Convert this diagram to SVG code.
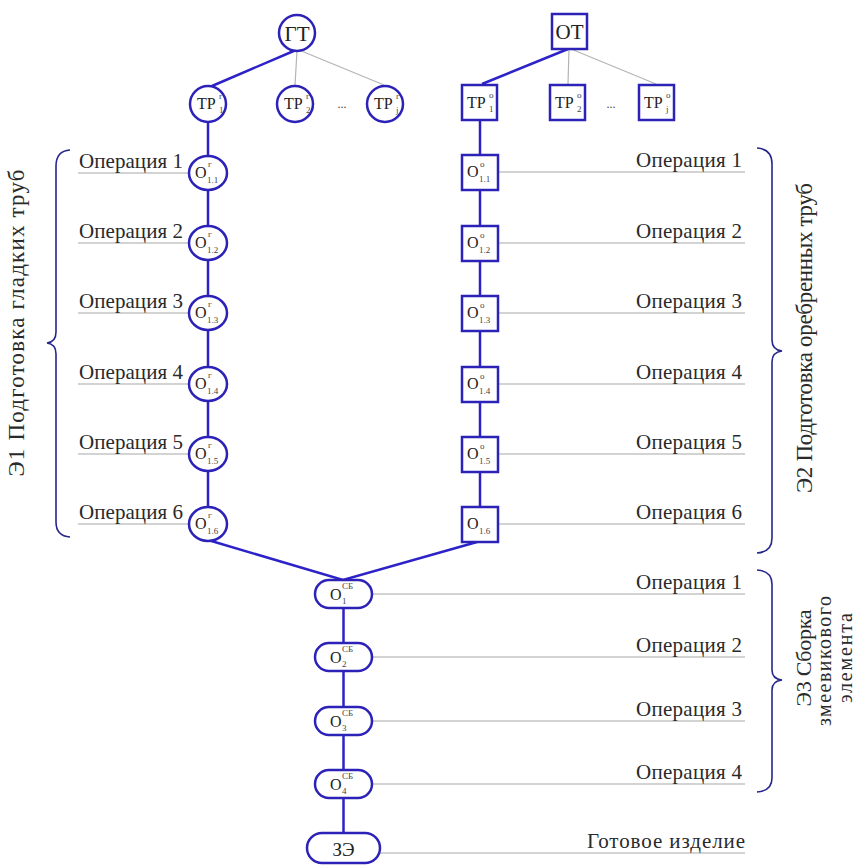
<svg xmlns="http://www.w3.org/2000/svg" width="858" height="865" viewBox="0 0 858 865" font-family="Liberation Serif, DejaVu Serif, serif">
  <style>
    .node { fill: #ffffff; stroke: #2c22b8; stroke-width: 2.5; }
    .link { stroke: #2c22c8; stroke-width: 2.5; fill: none; }
    .thin { stroke: #b4b4b4; stroke-width: 1.2; fill: none; }
    .lead { stroke: #a8a8a8; stroke-width: 1.2; fill: none; }
    .brace { stroke: #26268c; stroke-width: 1.6; fill: none; }
    .lbl { font-size: 21px; fill: #2a2a2a; }
    .nt { font-size: 16px; fill: #222; }
    .sup { font-size: 9px; fill: #444; }
    .big { font-size: 21px; fill: #222; }
    .side { font-size: 23px; fill: #2a2a2a; }
  </style>

  <!-- leader lines under operation labels -->
  <g id="leaders">
    <line class="lead" x1="78" y1="173" x2="189" y2="173"/>
    <line class="lead" x1="78" y1="243" x2="189" y2="243"/>
    <line class="lead" x1="78" y1="313" x2="189" y2="313"/>
    <line class="lead" x1="78" y1="384" x2="189" y2="384"/>
    <line class="lead" x1="78" y1="454" x2="189" y2="454"/>
    <line class="lead" x1="78" y1="524" x2="189" y2="524"/>
    <line class="lead" x1="498" y1="172" x2="745" y2="172"/>
    <line class="lead" x1="498" y1="243" x2="745" y2="243"/>
    <line class="lead" x1="498" y1="313" x2="745" y2="313"/>
    <line class="lead" x1="498" y1="384" x2="745" y2="384"/>
    <line class="lead" x1="498" y1="454" x2="745" y2="454"/>
    <line class="lead" x1="498" y1="524" x2="745" y2="524"/>
    <line class="lead" x1="372" y1="594" x2="745" y2="594"/>
    <line class="lead" x1="372" y1="657" x2="745" y2="657"/>
    <line class="lead" x1="372" y1="721" x2="745" y2="721"/>
    <line class="lead" x1="372" y1="784" x2="745" y2="784"/>
    <line class="lead" x1="380" y1="853" x2="745" y2="853"/>
  </g>

  <!-- connectors -->
  <g id="connectors">
    <line class="link" x1="296" y1="50" x2="212" y2="86"/>
    <line class="thin" x1="297" y1="51" x2="295" y2="85"/>
    <line class="thin" x1="299" y1="50" x2="384" y2="85"/>
    <line class="link" x1="568" y1="49" x2="482" y2="84"/>
    <line class="thin" x1="569" y1="49" x2="568" y2="84"/>
    <line class="thin" x1="571" y1="49" x2="656" y2="84"/>
    <line class="link" x1="208" y1="103" x2="208" y2="524"/>
    <line class="link" x1="480" y1="102" x2="480" y2="524"/>
    <polyline class="link" points="208,540 343,580 477,542"/>
    <line class="link" x1="343.5" y1="594" x2="343.5" y2="848"/>
  </g>

  <!-- braces -->
  <g id="braces">
    <path class="brace" d="M70,150 Q56,151 56,166 L56,332 Q56,342 47,343 Q56,344 56,354 L56,522 Q56,536 70,537"/>
    <path class="brace" d="M757,148 Q772,149 772,164 L772,340 Q772,350 782,351 Q772,352 772,362 L772,538 Q772,552 757,553"/>
    <path class="brace" d="M757,570 Q772,571 772,584 L772,670 Q772,679 782,680 Q772,681 772,690 L772,778 Q772,791 757,792"/>
  </g>

  <!-- top roots -->
  <g id="gt">
    <circle class="node" cx="297" cy="33" r="18"/>
    <text class="big" x="297" y="41" text-anchor="middle">ГТ</text>
  </g>
  <g id="ot">
    <rect class="node" x="552" y="14" width="35" height="35"/>
    <text class="big" x="569.5" y="39" text-anchor="middle">ОТ</text>
  </g>

  <!-- smooth tube routes -->
  <g id="trg1">
    <circle class="node" cx="208" cy="104" r="18"/>
    <text class="nt" x="197" y="109">ТР</text><text class="sup" x="219" y="99">г</text><text class="sup" x="219" y="113">1</text>
  </g>
  <g id="trg2">
    <circle class="node" cx="295" cy="104" r="18"/>
    <text class="nt" x="284" y="109">ТР</text><text class="sup" x="306" y="99">г</text><text class="sup" x="306" y="113">2</text>
  </g>
  <text class="sup" x="342" y="108" text-anchor="middle" style="font-size:12px">...</text>
  <g id="trg3">
    <circle class="node" cx="385" cy="104" r="18"/>
    <text class="nt" x="374" y="109">ТР</text><text class="sup" x="396" y="99">г</text><text class="sup" x="396" y="113">j</text>
  </g>

  <!-- finned tube routes -->
  <g id="tro1">
    <rect class="node" x="462" y="85" width="35" height="35"/>
    <text class="nt" x="467" y="108">ТР</text><text class="sup" x="489" y="98">о</text><text class="sup" x="489" y="112">1</text>
  </g>
  <g id="tro2">
    <rect class="node" x="550" y="85" width="35" height="35"/>
    <text class="nt" x="555" y="108">ТР</text><text class="sup" x="577" y="98">о</text><text class="sup" x="577" y="112">2</text>
  </g>
  <text class="sup" x="611" y="108" text-anchor="middle" style="font-size:12px">...</text>
  <g id="tro3">
    <rect class="node" x="639" y="85" width="35" height="35"/>
    <text class="nt" x="644" y="108">ТР</text><text class="sup" x="666" y="98">о</text><text class="sup" x="666" y="112">j</text>
  </g>

  <!-- stage 1: smooth tube operations -->
  <g id="og1"><ellipse class="node" cx="208" cy="173" rx="19" ry="17"/><text class="nt" x="195" y="178">O</text><text class="sup" x="208" y="167">г</text><text class="sup" x="207" y="183">1.1</text></g>
  <g id="og2"><ellipse class="node" cx="208" cy="243" rx="19" ry="17"/><text class="nt" x="195" y="248">O</text><text class="sup" x="208" y="237">г</text><text class="sup" x="207" y="253">1.2</text></g>
  <g id="og3"><ellipse class="node" cx="208" cy="313" rx="19" ry="17"/><text class="nt" x="195" y="318">O</text><text class="sup" x="208" y="307">г</text><text class="sup" x="207" y="323">1.3</text></g>
  <g id="og4"><ellipse class="node" cx="208" cy="384" rx="19" ry="17"/><text class="nt" x="195" y="389">O</text><text class="sup" x="208" y="378">г</text><text class="sup" x="207" y="394">1.4</text></g>
  <g id="og5"><ellipse class="node" cx="208" cy="454" rx="19" ry="17"/><text class="nt" x="195" y="459">O</text><text class="sup" x="208" y="448">г</text><text class="sup" x="207" y="464">1.5</text></g>
  <g id="og6"><ellipse class="node" cx="208" cy="524" rx="19" ry="17"/><text class="nt" x="195" y="529">O</text><text class="sup" x="208" y="518">г</text><text class="sup" x="207" y="534">1.6</text></g>

  <!-- stage 2: finned tube operations -->
  <g id="oo1"><rect class="node" x="462" y="155" width="36" height="35"/><text class="nt" x="467" y="177">O</text><text class="sup" x="480" y="167">о</text><text class="sup" x="479" y="182">1.1</text></g>
  <g id="oo2"><rect class="node" x="462" y="226" width="36" height="35"/><text class="nt" x="467" y="248">O</text><text class="sup" x="480" y="238">о</text><text class="sup" x="479" y="253">1.2</text></g>
  <g id="oo3"><rect class="node" x="462" y="296" width="36" height="35"/><text class="nt" x="467" y="318">O</text><text class="sup" x="480" y="308">о</text><text class="sup" x="479" y="323">1.3</text></g>
  <g id="oo4"><rect class="node" x="462" y="367" width="36" height="35"/><text class="nt" x="467" y="389">O</text><text class="sup" x="480" y="379">о</text><text class="sup" x="479" y="394">1.4</text></g>
  <g id="oo5"><rect class="node" x="462" y="437" width="36" height="35"/><text class="nt" x="467" y="459">O</text><text class="sup" x="480" y="449">о</text><text class="sup" x="479" y="464">1.5</text></g>
  <g id="oo6"><rect class="node" x="462" y="507" width="36" height="35"/><text class="nt" x="467" y="529">O</text><text class="sup" x="479" y="534">1.6</text></g>

  <!-- stage 3: coil element assembly -->
  <g id="osb1"><rect class="node" x="315" y="580" width="57" height="28" rx="14"/><text class="nt" x="330" y="600">O</text><text class="sup" x="342" y="589">СБ</text><text class="sup" x="342" y="604">1</text></g>
  <g id="osb2"><rect class="node" x="315" y="643" width="57" height="28" rx="14"/><text class="nt" x="330" y="663">O</text><text class="sup" x="342" y="652">СБ</text><text class="sup" x="342" y="667">2</text></g>
  <g id="osb3"><rect class="node" x="315" y="707" width="57" height="28" rx="14"/><text class="nt" x="330" y="727">O</text><text class="sup" x="342" y="716">СБ</text><text class="sup" x="342" y="731">3</text></g>
  <g id="osb4"><rect class="node" x="315" y="770" width="57" height="28" rx="14"/><text class="nt" x="330" y="790">O</text><text class="sup" x="342" y="779">СБ</text><text class="sup" x="342" y="794">4</text></g>
  <g id="ze"><rect class="node" x="307" y="833" width="73" height="30" rx="15"/><text class="big" x="343.5" y="856" text-anchor="middle" style="font-size:19px">ЗЭ</text></g>

  <!-- operation labels -->
  <g id="labels-left" class="lbl">
    <text x="79" y="168" textLength="104">Операция 1</text>
    <text x="79" y="238" textLength="104">Операция 2</text>
    <text x="79" y="308" textLength="104">Операция 3</text>
    <text x="79" y="379" textLength="104">Операция 4</text>
    <text x="79" y="449" textLength="104">Операция 5</text>
    <text x="79" y="519" textLength="104">Операция 6</text>
  </g>
  <g id="labels-right" class="lbl" text-anchor="end">
    <text x="742" y="167" textLength="106">Операция 1</text>
    <text x="742" y="238" textLength="106">Операция 2</text>
    <text x="742" y="308" textLength="106">Операция 3</text>
    <text x="742" y="379" textLength="106">Операция 4</text>
    <text x="742" y="449" textLength="106">Операция 5</text>
    <text x="742" y="519" textLength="106">Операция 6</text>
    <text x="742" y="589" textLength="106">Операция 1</text>
    <text x="742" y="652" textLength="106">Операция 2</text>
    <text x="742" y="716" textLength="106">Операция 3</text>
    <text x="742" y="779" textLength="106">Операция 4</text>
    <text x="745" y="848" textLength="158">Готовое изделие</text>
  </g>

  <!-- stage captions -->
  <text class="side" transform="translate(24,323) rotate(-90)" text-anchor="middle" textLength="307">Э1  Подготовка гладких труб</text>
  <text class="side" transform="translate(812,338) rotate(-90)" text-anchor="middle" textLength="310">Э2  Подготовка оребренных труб</text>
  <text class="side" transform="translate(811,658) rotate(-90)" text-anchor="middle" textLength="97" style="font-size:22px">Э3  Сборка</text>
  <text class="side" transform="translate(831,661) rotate(-90)" text-anchor="middle" textLength="130" style="font-size:20px">змеевикового</text>
  <text class="side" transform="translate(852,658) rotate(-90)" text-anchor="middle" textLength="90" style="font-size:20px">элемента</text>
</svg>
